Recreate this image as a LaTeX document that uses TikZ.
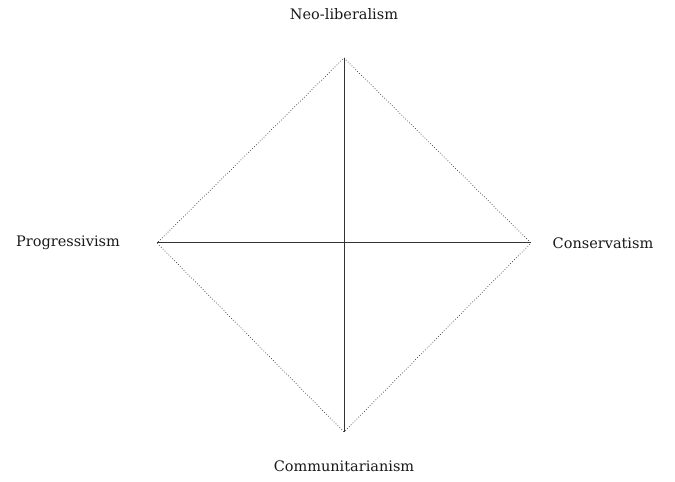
\documentclass[tikz,border=0pt]{standalone}
\usepackage{fontspec}
\setmainfont{DejaVu Serif}
\usetikzlibrary{positioning}
\begin{document}
\begin{tikzpicture}[
                      x=1pt, y=1pt,
                      pole/.style = {font=\fontsize{14.5}{17}\selectfont, text=black!90, inner sep=0pt},
                      axisline/.style = {draw=black!80, line width=1pt},
                      edgeline/.style = {draw=black!80, line width=0.7pt, dotted}
                  ]
                  \useasboundingbox (0,0) rectangle (675,482);
                  \coordinate (top) at (344,424);
                  \coordinate (bottom) at (344,50);
                  \coordinate (left) at (157,239);
                  \coordinate (right) at (531,239);
                  % labels
                  \node[pole] (neo) at (344,468) {Neo-liberalism};
                  \node[pole] (prog) at (68,239) {Progressivism};
                  \node[pole] (cons) at (603,239) {Conservatism};
                  \node[pole] (comm) at (344,16) {Communitarianism};
                  % diamond
                  \draw[edgeline] (top) -- (right) -- (bottom) -- (left) -- cycle;
                  \draw[axisline] (top) -- (bottom);
                  \draw[axisline] (left) -- (right);
              \end{tikzpicture}
\end{document}
